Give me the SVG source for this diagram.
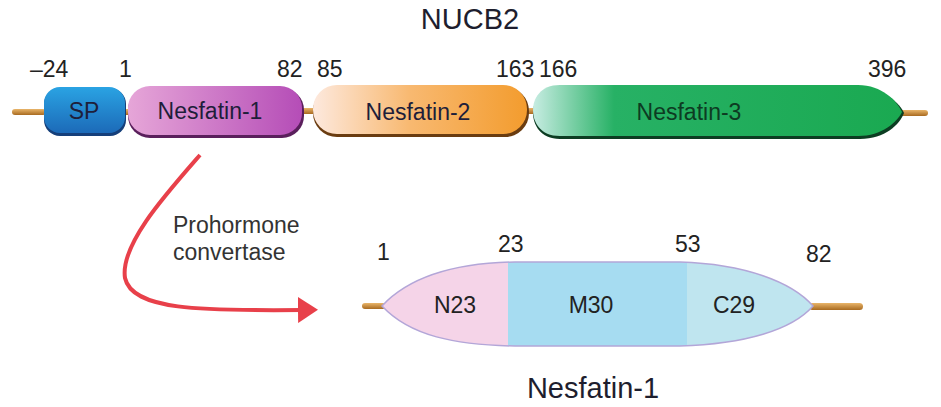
<svg xmlns="http://www.w3.org/2000/svg" width="941" height="407" viewBox="0 0 941 407">
<style>
text{font-family:"Liberation Sans",Arial,sans-serif;fill:#222}
.num{font-size:23px;fill:#2a2a2a}
.lab{font-size:23px;text-anchor:middle;fill:#1e1e3a}
.title{font-size:29px;text-anchor:middle;fill:#1e1e2e}
.note{font-size:23px;fill:#333}
</style>
<defs>
<linearGradient id="gSP" x1="0" y1="0" x2="0" y2="1"><stop offset="0" stop-color="#2aa3e3"/><stop offset="1" stop-color="#1c6ab8"/></linearGradient>
<linearGradient id="gN1" x1="0" y1="0" x2="1" y2="0"><stop offset="0" stop-color="#e6a6d8"/><stop offset="1" stop-color="#b54db7"/></linearGradient>
<linearGradient id="gN2" x1="0" y1="0" x2="1" y2="0"><stop offset="0" stop-color="#fde9de"/><stop offset="0.45" stop-color="#f8b971"/><stop offset="1" stop-color="#f39c2e"/></linearGradient>
<linearGradient id="gN3" x1="0" y1="0" x2="1" y2="0"><stop offset="0" stop-color="#c7ece2"/><stop offset="0.22" stop-color="#27b165"/><stop offset="1" stop-color="#1aa951"/></linearGradient>
<linearGradient id="gThread" x1="0" y1="0" x2="0" y2="1"><stop offset="0" stop-color="#e9b56a"/><stop offset="1" stop-color="#a86a20"/></linearGradient>
<clipPath id="cNes"><path d="M382,306 C410,276 455,263 515,262 L680,262 C745,264 792,282 813,306 C792,330 745,344 680,346 L515,346 C455,345 410,336 382,306 Z"/></clipPath>
<marker id="arr" markerWidth="20" markerHeight="26" refX="4" refY="13" orient="auto" markerUnits="userSpaceOnUse" viewBox="0 0 20 26"><path d="M0,0 L20,13 L0,26 Z" fill="#e8404a"/></marker>
</defs>

<text class="title" x="470" y="29">NUCB2</text>

<g id="threads">
<rect x="12" y="109" width="34" height="6" rx="3" fill="url(#gThread)"/>
<rect x="896" y="110" width="32" height="6" rx="3" fill="url(#gThread)"/>
<rect x="122" y="109" width="10" height="6" fill="url(#gThread)"/>
<rect x="298" y="108" width="18" height="6" fill="url(#gThread)"/>
<rect x="524" y="108" width="14" height="6" fill="url(#gThread)"/>
</g>

<g id="sp">
<rect x="44" y="88" width="82" height="48" rx="16" fill="#153f7a"/>
<rect x="44" y="87" width="81" height="46" rx="16" fill="url(#gSP)"/>
<text class="lab" x="84" y="119">SP</text>
</g>
<g id="nesfatin1">
<rect x="128" y="88" width="176" height="50" rx="22" fill="#5a1f5c"/>
<rect x="128" y="86" width="174" height="49" rx="22" fill="url(#gN1)"/>
<text class="lab" x="210" y="119">Nesfatin-1</text>
</g>
<g id="nesfatin2">
<rect x="313" y="87" width="216" height="50" rx="24" fill="#6a3c10"/>
<rect x="313" y="85" width="214" height="49" rx="24" fill="url(#gN2)"/>
<text class="lab" x="418" y="120">Nesfatin-2</text>
</g>
<g id="nesfatin3">
<path d="M560,88 L860,88 C885,88 900,104 904,113 C900,124 885,139 860,139 L560,139 C540,139 533,124 533,113 C533,102 540,88 560,88 Z" fill="#0c3d22"/>
<path d="M560,85 L858,85 C882,85 897,101 902,112 C897,122 882,136 858,136 L560,136 C540,136 533,122 533,110 C533,99 540,85 560,85 Z" fill="url(#gN3)"/>
<text class="lab" x="689" y="120" style="fill:#0d3b22">Nesfatin-3</text>
</g>

<g id="numbers" class="num">
<text x="30" y="77">–24</text>
<text x="119" y="77">1</text>
<text x="277" y="77">82</text>
<text x="317" y="77">85</text>
<text x="496" y="77">163</text>
<text x="539" y="77">166</text>
<text x="868" y="77">396</text>
</g>

<g id="connectors">
<path d="M200,155 C165,195 120,245 125,278 C132,310 200,311 302,310" fill="none" stroke="#e8404a" stroke-width="4" marker-end="url(#arr)"/>
</g>
<text class="note" x="173" y="233">Prohormone</text>
<text class="note" x="173" y="260">convertase</text>

<g id="nesfatin1-mature">
<rect x="362" y="303" width="24" height="6" rx="3" fill="url(#gThread)"/>
<rect x="809" y="303" width="54" height="7" rx="3.5" fill="url(#gThread)"/>
<g clip-path="url(#cNes)">
<rect x="370" y="255" width="138" height="100" fill="#f5d4e8"/>
<rect x="508" y="255" width="179" height="100" fill="#a6dcf1"/>
<rect x="687" y="255" width="140" height="100" fill="#bfe5ef"/>
</g>
<path d="M382,306 C410,276 455,263 515,262 L680,262 C745,264 792,282 813,306 C792,330 745,344 680,346 L515,346 C455,345 410,336 382,306 Z" fill="none" stroke="#b3a6d8" stroke-width="1.5"/>
<text class="lab" x="455" y="313" style="fill:#222">N23</text>
<text class="lab" x="591" y="313" style="fill:#222">M30</text>
<text class="lab" x="734" y="313" style="fill:#222">C29</text>
</g>

<g class="num">
<text x="377" y="260">1</text>
<text x="498" y="252">23</text>
<text x="675" y="252">53</text>
<text x="806" y="262">82</text>
</g>

<text class="title" x="593" y="398">Nesfatin-1</text>
</svg>
